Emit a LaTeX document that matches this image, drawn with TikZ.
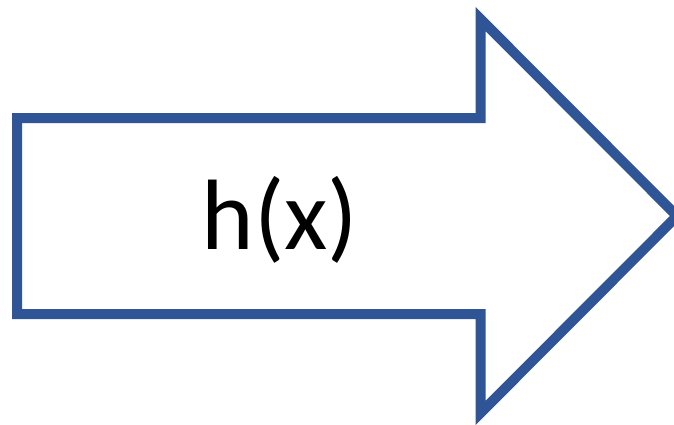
\documentclass[tikz,border=0pt]{standalone}
\usepackage{fontspec}
\setmainfont{Carlito}
\definecolor{arrowblue}{RGB}{47,85,151}
\tikzset{
  blockarrow/.style={draw=arrowblue, line width=10pt, miter limit=20, line join=miter, fill=white},
  labeltext/.style={font=\fontsize{100}{120}\selectfont, text=black, inner sep=0pt}
}
\begin{document}
\begin{tikzpicture}[x=1pt,y=-1pt]
\useasboundingbox (0,0) rectangle (674,424);
\begin{scope}
\clip (0,0) rectangle (674,424);
\draw[blockarrow] (17,118) -- (480.5,118) -- (480.5,19) -- (677,216) -- (480.5,413) -- (480.5,314) -- (17,314) -- cycle;
\end{scope}
\node[labeltext, anchor=base] (lbl) at (280,249) {h(x)};
\end{tikzpicture}
\end{document}
